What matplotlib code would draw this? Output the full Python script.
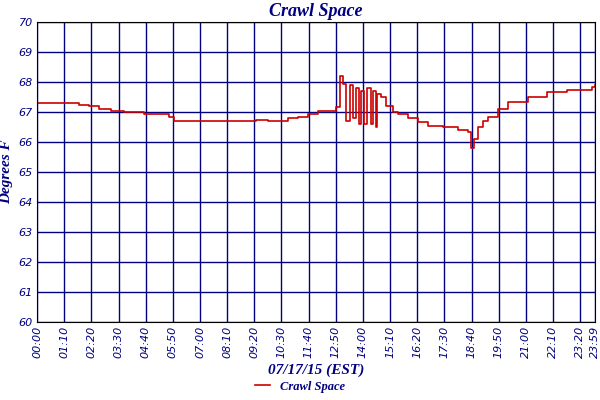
import matplotlib
matplotlib.use("Agg")
import matplotlib.pyplot as plt

px = [38,60,80,90,100,112,125,145,170,175,258,270,290,300,310,320,338,342,345,348,352,355,358,361,363,366,369,373,375,378,379,383,388,395,400,410,420,430,445,460,470,473,476,480,485,490,500,510,530,550,570,595,598]
temps = [67.3,67.3,67.25,67.2,67.1,67.05,67.0,66.95,66.85,66.7,66.75,66.7,66.8,66.85,66.95,67.05,67.15,68.2,67.95,66.7,67.9,66.8,67.8,66.6,67.7,66.6,67.8,66.6,67.7,66.5,67.6,67.5,67.2,67.0,66.95,66.8,66.65,66.55,66.5,66.4,66.35,65.8,66.1,66.5,66.7,66.85,67.1,67.35,67.5,67.65,67.75,67.85,67.9]
minutes = [min((p-38)*2.57, 1439) for p in px]

tick_min = list(range(0, 1440, 70)) + [1439]
tick_lab = [f"{m//60:02d}:{m%60:02d}" for m in tick_min]

navy = "#000080"
font = dict(family="Liberation Serif", style="italic", weight="bold", color=navy)
fig = plt.figure(figsize=(6,4), dpi=100)
ax = fig.add_axes([0.062, 0.195, 0.93, 0.75])
ax.step(minutes, temps, where="post", color="#cc0000", lw=1.2, label="Crawl Space")
ax.set_xlim(0, 1439)
ax.set_ylim(60, 70)
ax.set_yticks(range(60, 71))
ax.set_xticks(tick_min)
ax.set_xticklabels(tick_lab, rotation=90, fontsize=8, family="DejaVu Sans", style="italic", color=navy)
for l in ax.get_yticklabels():
    l.set_fontsize(8); l.set_color(navy); l.set_style("italic")
ax.tick_params(length=0, pad=3)
ax.grid(True, color=navy, lw=1)
for s in ax.spines.values():
    s.set_color("black")
ax.set_title("Crawl Space", fontsize=13, pad=4, **font)
ax.set_ylabel("Degrees F", fontsize=11, labelpad=4, **font)
ax.set_xlabel("07/17/15 (EST)", fontsize=11, labelpad=4, **font)
leg = fig.legend(loc="lower center", bbox_to_anchor=(0.5, -0.01), frameon=False,
                 prop=dict(family="Liberation Serif", style="italic", weight="bold", size=9),
                 handlelength=1.2)
for t in leg.get_texts():
    t.set_color(navy)
fig.savefig("out.png")
